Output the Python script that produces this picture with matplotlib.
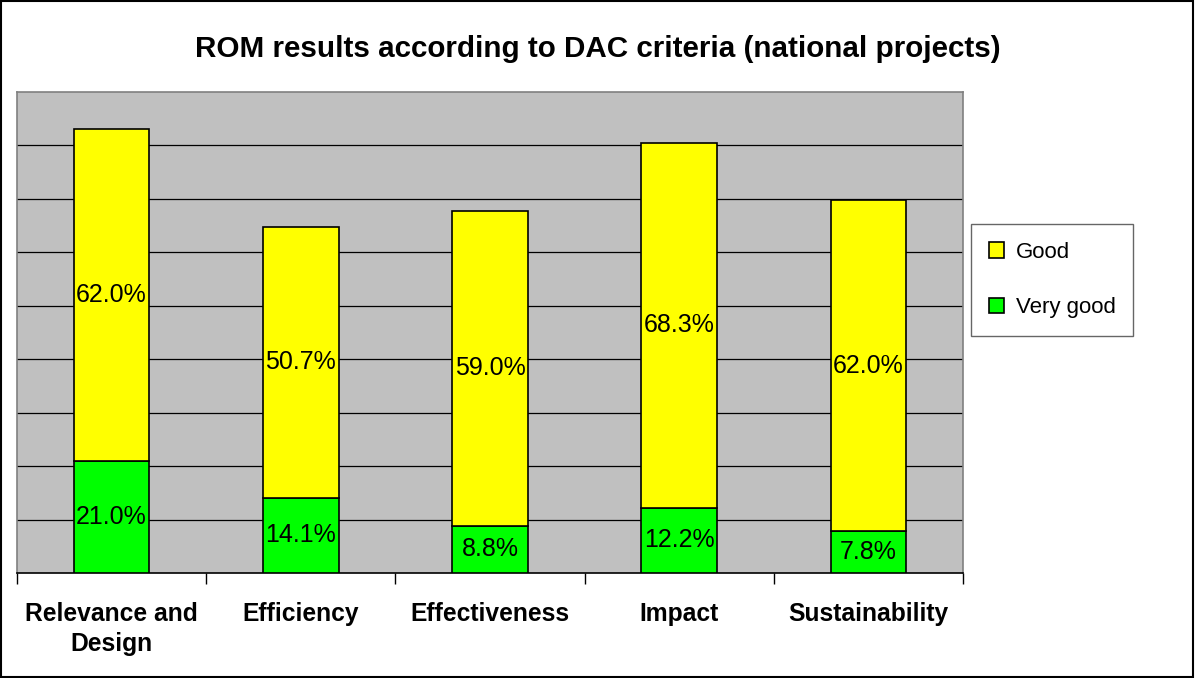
import matplotlib.pyplot as plt
import numpy as np
from matplotlib.patches import Rectangle

plt.rcParams['font.family'] = ['Liberation Sans', 'DejaVu Sans']

categories = ["Relevance and\nDesign", "Efficiency", "Effectiveness", "Impact", "Sustainability"]
very_good = [21.0, 14.1, 8.8, 12.2, 7.8]
good = [62.0, 50.7, 59.0, 68.3, 62.0]


def main():
    fig = plt.figure(figsize=(11.95, 6.78), dpi=100)
    ax = fig.add_axes([0.0142, 0.1549, 0.7917, 0.7094])
    ax.set_facecolor('#C0C0C0')

    x = np.arange(len(categories))
    w = 0.4
    b1 = ax.bar(x, very_good, w, color='#00FF00', edgecolor='black', linewidth=1.2,
                label='Very good', zorder=3)
    b2 = ax.bar(x, good, w, bottom=very_good, color='#FFFF00', edgecolor='black',
                linewidth=1.2, label='Good', zorder=3)

    for i in range(len(categories)):
        ax.text(x[i], very_good[i] / 2, f"{very_good[i]:.1f}%", ha='center', va='center',
                fontsize=18, zorder=4)
        ax.text(x[i], very_good[i] + good[i] / 2, f"{good[i]:.1f}%", ha='center',
                va='center', fontsize=18, zorder=4)

    ax.set_xlim(-0.5, len(categories) - 0.5)
    ax.set_ylim(0, 90)
    ax.set_yticks(np.arange(10, 90, 10))
    ax.yaxis.grid(True, color='black', linewidth=0.9, zorder=1)
    ax.tick_params(axis='y', left=False, labelleft=False)

    ax.set_xticks(x)
    ax.set_xticklabels(categories, fontsize=17.7, fontweight='bold', linespacing=1.3)
    ax.set_xticks(np.arange(-0.5, len(categories), 1), minor=True)
    ax.tick_params(axis='x', which='major', length=0, pad=21)
    ax.tick_params(axis='x', which='minor', length=8, width=1, direction='out', color='black')

    for s in ['left', 'right', 'top']:
        ax.spines[s].set_color('#808080')
        ax.spines[s].set_linewidth(1.2)
    ax.spines['bottom'].set_color('black')
    ax.spines['bottom'].set_linewidth(1.2)

    fig.text(0.5, 0.928, "ROM results according to DAC criteria (national projects)",
             ha='center', va='center', fontsize=21.3, fontweight='bold')

    leg = fig.legend([b2, b1], ['Good', 'Very good'], loc='upper left',
                     bbox_to_anchor=(0.8126, 0.6696), fontsize=16, frameon=True,
                     fancybox=False, edgecolor='#404040', handlelength=0.7,
                     handleheight=0.7, handletextpad=0.5, labelspacing=1.55,
                     borderpad=0.8, borderaxespad=0)
    leg.get_frame().set_linewidth(1.0)

    fig.patches.append(Rectangle((0.001, 0.001), 0.997, 0.997, transform=fig.transFigure,
                                 fill=False, edgecolor='black', linewidth=1.5))

    fig.savefig('out.png', dpi=100)


if __name__ == "__main__":
    main()
